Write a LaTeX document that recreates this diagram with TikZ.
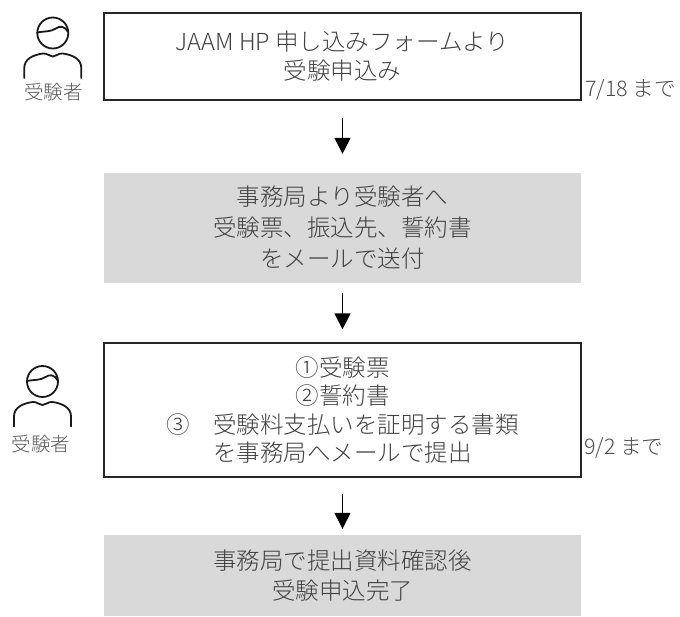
\documentclass[tikz,border=0pt]{standalone}
\usepackage{fontspec}
\setmainfont{Noto Sans CJK JP}[UprightFont=* Light]
\usetikzlibrary{arrows.meta}
\definecolor{boxgray}{HTML}{D9D9D9}
\definecolor{txt}{HTML}{404040}
\tikzset{
  flowbox/.style={minimum width=477pt, align=center, text=txt, inner sep=0pt},
  whitebox/.style={flowbox, draw=black!85, line width=1.3pt},
  graybox/.style={flowbox, fill=boxgray},
  flowarrow/.style={draw=black, line width=1.3pt, -{Triangle[width=16pt,length=16pt]}},
  sidelabel/.style={anchor=west, font=\fontsize{21.5}{24}\selectfont, text=black!70, inner sep=0pt},
  iconline/.style={line width=1.8pt, draw=black!90, line cap=round, line join=round},
  iconlabel/.style={font=\fontsize{19.5}{22}\selectfont, text=black!65, inner sep=0pt},
  person/.pic={
    \draw[iconline] (0,0) circle[radius=15.5];
    \draw[iconline] (-15.5,-0.5) .. controls (-8,-2) and (-2,-1) .. (3,-4.5)
      .. controls (7,-7.5) and (12,-7) .. (15.3,-1);
    \draw[iconline] (-28.5,45) -- (-28.5,35)
      .. controls (-28.5,26) and (-20,22) .. (-10,20.5)
      .. controls (-5,20) and (-4,23.5) .. (0,23.5)
      .. controls (4,23.5) and (5,20) .. (10,20.5)
      .. controls (20,22) and (28.5,26) .. (28.5,35) -- (28.5,45);
  }
}
\begin{document}
\begin{tikzpicture}[x=1pt,y=-1pt]
\useasboundingbox (0,0) rectangle (680,616);

\node[whitebox, minimum height=87pt, font=\fontsize{23.5}{29}\selectfont] (b1) at (342.5,56.5)
  {JAAM HP 申し込みフォームより\\受験申込み};
\node[graybox, minimum height=110pt, font=\fontsize{23.5}{31}\selectfont] (b2) at (342.5,228)
  {事務局より受験者へ\\受験票、振込先、誓約書\\をメールで送付};
\node[whitebox, minimum height=134pt, font=\fontsize{23.5}{28.5}\selectfont] (b3) at (342.5,410)
  {①受験票\\②誓約書\\③　受験料支払いを証明する書類\\を事務局へメールで提出};
\node[graybox, minimum height=81pt, font=\fontsize{23.5}{30}\selectfont] (b4) at (342.5,575.5)
  {事務局で提出資料確認後\\受験申込完了};

\draw[flowarrow] ([yshift=-17pt]b1.south) -- ([yshift=19pt]b2.north);
\draw[flowarrow] ([yshift=-10pt]b2.south) -- ([yshift=13pt]b3.north);
\draw[flowarrow] ([yshift=-16pt]b3.south) -- ([yshift=6pt]b4.north);

\node[sidelabel] (d1) at (585,89.5) {7/18 まで};
\node[sidelabel] (d2) at (584,448) {9/2 まで};

\pic at (52.8,33) {person};
\node[iconlabel] (p1) at (53.5,92.5) {受験者};
\pic at (42.5,381.5) {person};
\node[iconlabel] (p2) at (41,444) {受験者};
\end{tikzpicture}
\end{document}
